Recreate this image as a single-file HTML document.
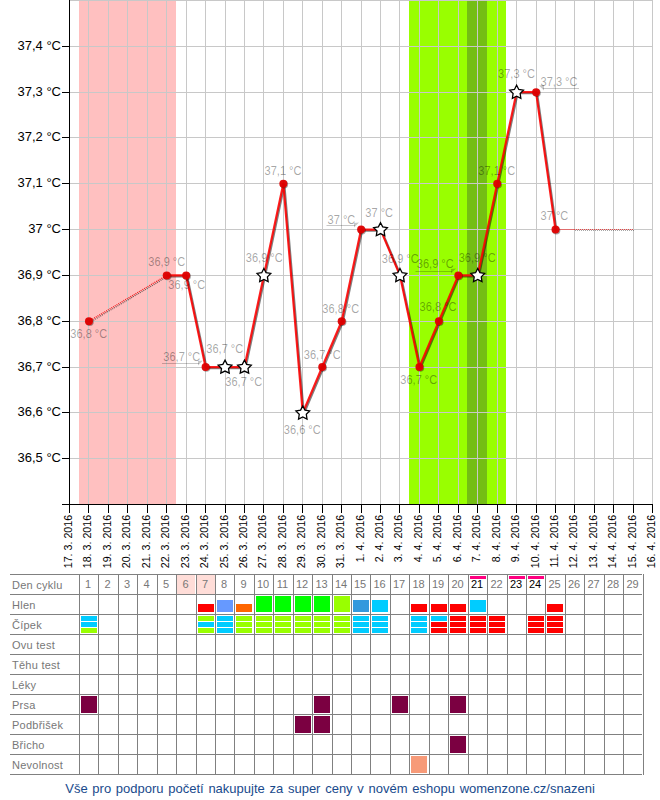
<!DOCTYPE html>
<html><head><meta charset="utf-8"><style>
html,body{margin:0;padding:0;background:#fff}
body{width:660px;height:800px;position:relative;overflow:hidden;font-family:"Liberation Sans",sans-serif}
.yl{font-family:"Liberation Sans",sans-serif;font-size:13px;fill:#000}
.xl{font-family:"Liberation Sans",sans-serif;font-size:10.7px;fill:#000}
.dl{font-family:"Liberation Sans",sans-serif;font-size:12px;fill:#000;fill-opacity:0.36}
.tl{position:absolute;left:12px;font-size:11px;letter-spacing:0.25px;line-height:14px;color:#777;white-space:nowrap}
.dn{position:absolute;top:577px;font-size:11px;line-height:14px;text-align:center}
.ft{position:absolute;left:0;top:781px;width:660px;text-align:center;font-size:13px;line-height:16px;color:#194A8C;word-spacing:1.1px}
</style></head><body>
<svg width="660" height="575" style="position:absolute;left:0;top:0"><rect x="79" y="0" width="97" height="504" fill="#FFC0C0"/><rect x="409" y="0" width="97" height="504" fill="#99FF00"/><rect x="467" y="0" width="20" height="504" fill="#74BE14"/><rect x="69" y="0" width="584" height="1" fill="#C8C8C8"/><rect x="69" y="46" width="584" height="1" fill="#C8C8C8"/><rect x="69" y="92" width="584" height="1" fill="#C8C8C8"/><rect x="69" y="137" width="584" height="1" fill="#C8C8C8"/><rect x="69" y="183" width="584" height="1" fill="#C8C8C8"/><rect x="69" y="229" width="584" height="1" fill="#C8C8C8"/><rect x="69" y="275" width="584" height="1" fill="#C8C8C8"/><rect x="69" y="321" width="584" height="1" fill="#C8C8C8"/><rect x="69" y="367" width="584" height="1" fill="#C8C8C8"/><rect x="69" y="412" width="584" height="1" fill="#C8C8C8"/><rect x="69" y="458" width="584" height="1" fill="#C8C8C8"/><rect x="88" y="0" width="1" height="504" fill="#C8C8C8"/><rect x="108" y="0" width="1" height="504" fill="#C8C8C8"/><rect x="127" y="0" width="1" height="504" fill="#C8C8C8"/><rect x="147" y="0" width="1" height="504" fill="#C8C8C8"/><rect x="166" y="0" width="1" height="504" fill="#C8C8C8"/><rect x="186" y="0" width="1" height="504" fill="#C8C8C8"/><rect x="205" y="0" width="1" height="504" fill="#C8C8C8"/><rect x="225" y="0" width="1" height="504" fill="#C8C8C8"/><rect x="244" y="0" width="1" height="504" fill="#C8C8C8"/><rect x="263" y="0" width="1" height="504" fill="#C8C8C8"/><rect x="283" y="0" width="1" height="504" fill="#C8C8C8"/><rect x="302" y="0" width="1" height="504" fill="#C8C8C8"/><rect x="322" y="0" width="1" height="504" fill="#C8C8C8"/><rect x="341" y="0" width="1" height="504" fill="#C8C8C8"/><rect x="361" y="0" width="1" height="504" fill="#C8C8C8"/><rect x="380" y="0" width="1" height="504" fill="#C8C8C8"/><rect x="399" y="0" width="1" height="504" fill="#C8C8C8"/><rect x="419" y="0" width="1" height="504" fill="#C8C8C8"/><rect x="438" y="0" width="1" height="504" fill="#C8C8C8"/><rect x="458" y="0" width="1" height="504" fill="#C8C8C8"/><rect x="477" y="0" width="1" height="504" fill="#C8C8C8"/><rect x="497" y="0" width="1" height="504" fill="#C8C8C8"/><rect x="516" y="0" width="1" height="504" fill="#C8C8C8"/><rect x="536" y="0" width="1" height="504" fill="#C8C8C8"/><rect x="555" y="0" width="1" height="504" fill="#C8C8C8"/><rect x="574" y="0" width="1" height="504" fill="#C8C8C8"/><rect x="594" y="0" width="1" height="504" fill="#C8C8C8"/><rect x="613" y="0" width="1" height="504" fill="#C8C8C8"/><rect x="633" y="0" width="1" height="504" fill="#C8C8C8"/><rect x="652" y="0" width="1" height="504" fill="#C8C8C8"/><rect x="69" y="0" width="1" height="513" fill="#000"/><rect x="62" y="504" width="591" height="1" fill="#000"/><rect x="62" y="46" width="7" height="1" fill="#000"/><rect x="62" y="92" width="7" height="1" fill="#000"/><rect x="62" y="137" width="7" height="1" fill="#000"/><rect x="62" y="183" width="7" height="1" fill="#000"/><rect x="62" y="229" width="7" height="1" fill="#000"/><rect x="62" y="275" width="7" height="1" fill="#000"/><rect x="62" y="321" width="7" height="1" fill="#000"/><rect x="62" y="367" width="7" height="1" fill="#000"/><rect x="62" y="412" width="7" height="1" fill="#000"/><rect x="62" y="458" width="7" height="1" fill="#000"/><rect x="88" y="504" width="1" height="9" fill="#000"/><rect x="108" y="504" width="1" height="9" fill="#000"/><rect x="127" y="504" width="1" height="9" fill="#000"/><rect x="147" y="504" width="1" height="9" fill="#000"/><rect x="166" y="504" width="1" height="9" fill="#000"/><rect x="186" y="504" width="1" height="9" fill="#000"/><rect x="205" y="504" width="1" height="9" fill="#000"/><rect x="225" y="504" width="1" height="9" fill="#000"/><rect x="244" y="504" width="1" height="9" fill="#000"/><rect x="263" y="504" width="1" height="9" fill="#000"/><rect x="283" y="504" width="1" height="9" fill="#000"/><rect x="302" y="504" width="1" height="9" fill="#000"/><rect x="322" y="504" width="1" height="9" fill="#000"/><rect x="341" y="504" width="1" height="9" fill="#000"/><rect x="361" y="504" width="1" height="9" fill="#000"/><rect x="380" y="504" width="1" height="9" fill="#000"/><rect x="399" y="504" width="1" height="9" fill="#000"/><rect x="419" y="504" width="1" height="9" fill="#000"/><rect x="438" y="504" width="1" height="9" fill="#000"/><rect x="458" y="504" width="1" height="9" fill="#000"/><rect x="477" y="504" width="1" height="9" fill="#000"/><rect x="497" y="504" width="1" height="9" fill="#000"/><rect x="516" y="504" width="1" height="9" fill="#000"/><rect x="536" y="504" width="1" height="9" fill="#000"/><rect x="555" y="504" width="1" height="9" fill="#000"/><rect x="574" y="504" width="1" height="9" fill="#000"/><rect x="594" y="504" width="1" height="9" fill="#000"/><rect x="613" y="504" width="1" height="9" fill="#000"/><rect x="633" y="504" width="1" height="9" fill="#000"/><rect x="652" y="504" width="1" height="9" fill="#000"/><text x="61" y="49.6" text-anchor="end" class="yl">37,4 °C</text><text x="61" y="95.6" text-anchor="end" class="yl">37,3 °C</text><text x="61" y="140.6" text-anchor="end" class="yl">37,2 °C</text><text x="61" y="186.6" text-anchor="end" class="yl">37,1 °C</text><text x="61" y="232.6" text-anchor="end" class="yl">37 °C</text><text x="61" y="278.6" text-anchor="end" class="yl">36,9 °C</text><text x="61" y="324.6" text-anchor="end" class="yl">36,8 °C</text><text x="61" y="370.6" text-anchor="end" class="yl">36,7 °C</text><text x="61" y="415.6" text-anchor="end" class="yl">36,6 °C</text><text x="61" y="461.6" text-anchor="end" class="yl">36,5 °C</text><text transform="translate(72.0,514.8) rotate(-90)" text-anchor="end" class="xl">17. 3. 2016</text><text transform="translate(91.0,514.8) rotate(-90)" text-anchor="end" class="xl">18. 3. 2016</text><text transform="translate(111.0,514.8) rotate(-90)" text-anchor="end" class="xl">19. 3. 2016</text><text transform="translate(130.0,514.8) rotate(-90)" text-anchor="end" class="xl">20. 3. 2016</text><text transform="translate(150.0,514.8) rotate(-90)" text-anchor="end" class="xl">21. 3. 2016</text><text transform="translate(169.0,514.8) rotate(-90)" text-anchor="end" class="xl">22. 3. 2016</text><text transform="translate(189.0,514.8) rotate(-90)" text-anchor="end" class="xl">23. 3. 2016</text><text transform="translate(208.0,514.8) rotate(-90)" text-anchor="end" class="xl">24. 3. 2016</text><text transform="translate(228.0,514.8) rotate(-90)" text-anchor="end" class="xl">25. 3. 2016</text><text transform="translate(247.0,514.8) rotate(-90)" text-anchor="end" class="xl">26. 3. 2016</text><text transform="translate(266.0,514.8) rotate(-90)" text-anchor="end" class="xl">27. 3. 2016</text><text transform="translate(286.0,514.8) rotate(-90)" text-anchor="end" class="xl">28. 3. 2016</text><text transform="translate(305.0,514.8) rotate(-90)" text-anchor="end" class="xl">29. 3. 2016</text><text transform="translate(325.0,514.8) rotate(-90)" text-anchor="end" class="xl">30. 3. 2016</text><text transform="translate(344.0,514.8) rotate(-90)" text-anchor="end" class="xl">31. 3. 2016</text><text transform="translate(364.0,514.8) rotate(-90)" text-anchor="end" class="xl">1. 4. 2016</text><text transform="translate(383.0,514.8) rotate(-90)" text-anchor="end" class="xl">2. 4. 2016</text><text transform="translate(402.0,514.8) rotate(-90)" text-anchor="end" class="xl">3. 4. 2016</text><text transform="translate(422.0,514.8) rotate(-90)" text-anchor="end" class="xl">4. 4. 2016</text><text transform="translate(441.0,514.8) rotate(-90)" text-anchor="end" class="xl">5. 4. 2016</text><text transform="translate(461.0,514.8) rotate(-90)" text-anchor="end" class="xl">6. 4. 2016</text><text transform="translate(480.0,514.8) rotate(-90)" text-anchor="end" class="xl">7. 4. 2016</text><text transform="translate(500.0,514.8) rotate(-90)" text-anchor="end" class="xl">8. 4. 2016</text><text transform="translate(519.0,514.8) rotate(-90)" text-anchor="end" class="xl">9. 4. 2016</text><text transform="translate(539.0,514.8) rotate(-90)" text-anchor="end" class="xl">10. 4. 2016</text><text transform="translate(558.0,514.8) rotate(-90)" text-anchor="end" class="xl">11. 4. 2016</text><text transform="translate(577.0,514.8) rotate(-90)" text-anchor="end" class="xl">12. 4. 2016</text><text transform="translate(597.0,514.8) rotate(-90)" text-anchor="end" class="xl">13. 4. 2016</text><text transform="translate(616.0,514.8) rotate(-90)" text-anchor="end" class="xl">14. 4. 2016</text><text transform="translate(636.0,514.8) rotate(-90)" text-anchor="end" class="xl">15. 4. 2016</text><text transform="translate(655.0,514.8) rotate(-90)" text-anchor="end" class="xl">16. 4. 2016</text><line x1="89.94" y1="322.23" x2="167.70" y2="276.41" stroke="rgba(0,0,0,0.55)" stroke-width="1.2" stroke-dasharray="1 1"/><line x1="88.94" y1="321.23" x2="166.70" y2="275.41" stroke="#F02020" stroke-width="1.3" stroke-dasharray="1 1"/><rect x="559" y="229" width="15" height="1" fill="#F03030" fill-opacity="0.6"/><line x1="574" y1="230.5" x2="634" y2="230.5" stroke="#000" stroke-opacity="0.35" stroke-width="1" stroke-dasharray="1 1" stroke-dashoffset="1"/><line x1="574" y1="229.5" x2="634" y2="229.5" stroke="#F02020" stroke-opacity="0.8" stroke-width="1" stroke-dasharray="1 1"/><path d="M166.70,275.41 L186.14,275.41 L205.58,367.05 L225.02,367.05 L244.46,367.05 L263.90,275.41 L283.34,183.77 L302.78,412.86 L322.22,367.05 L341.66,321.23 L361.10,229.59 L380.54,229.59 L399.98,275.41 L419.42,367.05 L438.86,321.23 L458.30,275.41 L477.74,275.41 L497.18,183.77 L516.62,92.14 L536.06,92.14 L555.50,229.59" fill="none" stroke="rgba(0,0,0,0.5)" stroke-width="2.2" stroke-linejoin="round" transform="translate(1,1)"/><path d="M166.70,275.41 L186.14,275.41 L205.58,367.05 L225.02,367.05 L244.46,367.05 L263.90,275.41 L283.34,183.77 L302.78,412.86 L322.22,367.05 L341.66,321.23 L361.10,229.59 L380.54,229.59 L399.98,275.41 L419.42,367.05 L438.86,321.23 L458.30,275.41 L477.74,275.41 L497.18,183.77 L516.62,92.14 L536.06,92.14 L555.50,229.59" fill="none" stroke="#FF0000" stroke-opacity="0.88" stroke-width="2.2" stroke-linejoin="round"/><circle cx="89.74" cy="322.03" r="4" fill="rgba(0,0,0,0.35)"/><circle cx="88.94" cy="321.23" r="4" fill="#E00000" fill-opacity="0.95"/><circle cx="167.50" cy="276.21" r="4" fill="rgba(0,0,0,0.35)"/><circle cx="166.70" cy="275.41" r="4" fill="#E00000" fill-opacity="0.95"/><circle cx="186.94" cy="276.21" r="4" fill="rgba(0,0,0,0.35)"/><circle cx="186.14" cy="275.41" r="4" fill="#E00000" fill-opacity="0.95"/><circle cx="206.38" cy="367.85" r="4" fill="rgba(0,0,0,0.35)"/><circle cx="205.58" cy="367.05" r="4" fill="#E00000" fill-opacity="0.95"/><path d="M225.02,360.15 L227.19,364.35 L231.87,365.12 L228.54,368.49 L229.25,373.17 L225.02,371.05 L220.79,373.17 L221.50,368.49 L218.17,365.12 L222.85,364.35Z" fill="#fff" stroke="#000" stroke-width="1.3" stroke-linejoin="miter"/><path d="M244.46,360.15 L246.63,364.35 L251.31,365.12 L247.98,368.49 L248.69,373.17 L244.46,371.05 L240.23,373.17 L240.94,368.49 L237.61,365.12 L242.29,364.35Z" fill="#fff" stroke="#000" stroke-width="1.3" stroke-linejoin="miter"/><path d="M263.90,268.51 L266.07,272.72 L270.75,273.48 L267.42,276.85 L268.13,281.53 L263.90,279.41 L259.67,281.53 L260.38,276.85 L257.05,273.48 L261.73,272.72Z" fill="#fff" stroke="#000" stroke-width="1.3" stroke-linejoin="miter"/><circle cx="284.14" cy="184.57" r="4" fill="rgba(0,0,0,0.35)"/><circle cx="283.34" cy="183.77" r="4" fill="#E00000" fill-opacity="0.95"/><path d="M302.78,405.96 L304.95,410.17 L309.63,410.94 L306.30,414.31 L307.01,418.99 L302.78,416.86 L298.55,418.99 L299.26,414.31 L295.93,410.94 L300.61,410.17Z" fill="#fff" stroke="#000" stroke-width="1.3" stroke-linejoin="miter"/><circle cx="323.02" cy="367.85" r="4" fill="rgba(0,0,0,0.35)"/><circle cx="322.22" cy="367.05" r="4" fill="#E00000" fill-opacity="0.95"/><circle cx="342.46" cy="322.03" r="4" fill="rgba(0,0,0,0.35)"/><circle cx="341.66" cy="321.23" r="4" fill="#E00000" fill-opacity="0.95"/><circle cx="361.90" cy="230.39" r="4" fill="rgba(0,0,0,0.35)"/><circle cx="361.10" cy="229.59" r="4" fill="#E00000" fill-opacity="0.95"/><path d="M380.54,222.69 L382.71,226.90 L387.39,227.67 L384.06,231.03 L384.77,235.72 L380.54,233.59 L376.31,235.72 L377.02,231.03 L373.69,227.67 L378.37,226.90Z" fill="#fff" stroke="#000" stroke-width="1.3" stroke-linejoin="miter"/><path d="M399.98,268.51 L402.15,272.72 L406.83,273.48 L403.50,276.85 L404.21,281.53 L399.98,279.41 L395.75,281.53 L396.46,276.85 L393.13,273.48 L397.81,272.72Z" fill="#fff" stroke="#000" stroke-width="1.3" stroke-linejoin="miter"/><circle cx="420.22" cy="367.85" r="4" fill="rgba(0,0,0,0.35)"/><circle cx="419.42" cy="367.05" r="4" fill="#E00000" fill-opacity="0.95"/><circle cx="439.66" cy="322.03" r="4" fill="rgba(0,0,0,0.35)"/><circle cx="438.86" cy="321.23" r="4" fill="#E00000" fill-opacity="0.95"/><circle cx="459.10" cy="276.21" r="4" fill="rgba(0,0,0,0.35)"/><circle cx="458.30" cy="275.41" r="4" fill="#E00000" fill-opacity="0.95"/><path d="M477.74,268.51 L479.91,272.72 L484.59,273.48 L481.26,276.85 L481.97,281.53 L477.74,279.41 L473.51,281.53 L474.22,276.85 L470.89,273.48 L475.57,272.72Z" fill="#fff" stroke="#000" stroke-width="1.3" stroke-linejoin="miter"/><circle cx="497.98" cy="184.57" r="4" fill="rgba(0,0,0,0.35)"/><circle cx="497.18" cy="183.77" r="4" fill="#E00000" fill-opacity="0.95"/><path d="M516.62,85.24 L518.79,89.44 L523.47,90.21 L520.14,93.58 L520.85,98.26 L516.62,96.14 L512.39,98.26 L513.10,93.58 L509.77,90.21 L514.45,89.44Z" fill="#fff" stroke="#000" stroke-width="1.3" stroke-linejoin="miter"/><circle cx="536.86" cy="92.94" r="4" fill="rgba(0,0,0,0.35)"/><circle cx="536.06" cy="92.14" r="4" fill="#E00000" fill-opacity="0.95"/><circle cx="556.30" cy="230.39" r="4" fill="rgba(0,0,0,0.35)"/><circle cx="555.50" cy="229.59" r="4" fill="#E00000" fill-opacity="0.95"/><text transform="translate(70.30,337.90) scale(0.92,1)" class="dl" >36,8 °C</text><text transform="translate(148.30,265.90) scale(0.92,1)" class="dl" >36,9 °C</text><text transform="translate(168.30,288.90) scale(0.92,1)" class="dl" >36,9 °C</text><text transform="translate(163.30,361.40) scale(0.92,1)" class="dl" >36,7 °C</text><text transform="translate(206.30,352.90) scale(0.92,1)" class="dl" >36,7 °C</text><text transform="translate(225.30,386.40) scale(0.92,1)" class="dl" >36,7 °C</text><text transform="translate(245.80,261.90) scale(0.92,1)" class="dl" >36,9 °C</text><text transform="translate(264.60,175.40) scale(0.92,1)" class="dl" >37,1 °C</text><text transform="translate(283.80,433.90) scale(0.92,1)" class="dl" >36,6 °C</text><text transform="translate(303.80,358.90) scale(0.92,1)" class="dl" >36,7 °C</text><text transform="translate(322.30,312.70) scale(0.92,1)" class="dl" >36,8 °C</text><text transform="translate(327.60,223.60) scale(0.92,1)" class="dl" >37 °C</text><text transform="translate(365.30,216.60) scale(0.92,1)" class="dl" >37 °C</text><text transform="translate(381.80,262.70) scale(0.92,1)" class="dl" >36,9 °C</text><text transform="translate(400.30,383.90) scale(0.92,1)" class="dl" >36,7 °C</text><text transform="translate(419.60,310.90) scale(0.92,1)" class="dl" >36,8 °C</text><text transform="translate(416.80,268.30) scale(0.92,1)" class="dl" >36,9 °C</text><text transform="translate(458.70,261.90) scale(0.92,1)" class="dl" >36,9 °C</text><text transform="translate(478.30,175.20) scale(0.92,1)" class="dl" >37,1 °C</text><text transform="translate(498.10,78.40) scale(0.92,1)" class="dl" >37,3 °C</text><text transform="translate(540.60,86.40) scale(0.92,1)" class="dl" >37,3 °C</text><text transform="translate(540.60,220.20) scale(0.92,1)" class="dl" >37 °C</text><rect x="162" y="363" width="37" height="1" fill="#000" fill-opacity="0.22"/><path d="M198,361 L203,360.5 L198,365.5Z" fill="#000" fill-opacity="0.22"/><rect x="326.5" y="225" width="28.5" height="1" fill="#000" fill-opacity="0.22"/><path d="M354,223 L359,222.5 L354,227.5Z" fill="#000" fill-opacity="0.22"/><rect x="415.5" y="271" width="36.5" height="1" fill="#000" fill-opacity="0.22"/><path d="M451,269 L456,268.5 L451,273.5Z" fill="#000" fill-opacity="0.22"/><rect x="543" y="88" width="36" height="1" fill="#000" fill-opacity="0.22"/><path d="M544,85 L539,85.5 L544,90.5Z" fill="#000" fill-opacity="0.22"/></svg>
<div style="position:absolute;left:10px;top:574px;width:632px;height:1px;background:#808080"></div><div style="position:absolute;left:10px;top:594px;width:632px;height:1px;background:#808080"></div><div style="position:absolute;left:10px;top:614px;width:632px;height:1px;background:#808080"></div><div style="position:absolute;left:10px;top:634px;width:632px;height:1px;background:#808080"></div><div style="position:absolute;left:10px;top:654px;width:632px;height:1px;background:#808080"></div><div style="position:absolute;left:10px;top:674px;width:632px;height:1px;background:#808080"></div><div style="position:absolute;left:10px;top:694px;width:632px;height:1px;background:#808080"></div><div style="position:absolute;left:10px;top:714px;width:632px;height:1px;background:#808080"></div><div style="position:absolute;left:10px;top:734px;width:632px;height:1px;background:#808080"></div><div style="position:absolute;left:10px;top:754px;width:632px;height:1px;background:#808080"></div><div style="position:absolute;left:10px;top:774px;width:632px;height:1px;background:#808080"></div><div style="position:absolute;left:79px;top:574px;width:1px;height:201px;background:#808080"></div><div style="position:absolute;left:98px;top:574px;width:1px;height:201px;background:#808080"></div><div style="position:absolute;left:118px;top:574px;width:1px;height:201px;background:#808080"></div><div style="position:absolute;left:137px;top:574px;width:1px;height:201px;background:#808080"></div><div style="position:absolute;left:157px;top:574px;width:1px;height:201px;background:#808080"></div><div style="position:absolute;left:176px;top:574px;width:1px;height:201px;background:#808080"></div><div style="position:absolute;left:196px;top:574px;width:1px;height:201px;background:#808080"></div><div style="position:absolute;left:215px;top:574px;width:1px;height:201px;background:#808080"></div><div style="position:absolute;left:234px;top:574px;width:1px;height:201px;background:#808080"></div><div style="position:absolute;left:254px;top:574px;width:1px;height:201px;background:#808080"></div><div style="position:absolute;left:273px;top:574px;width:1px;height:201px;background:#808080"></div><div style="position:absolute;left:293px;top:574px;width:1px;height:201px;background:#808080"></div><div style="position:absolute;left:312px;top:574px;width:1px;height:201px;background:#808080"></div><div style="position:absolute;left:332px;top:574px;width:1px;height:201px;background:#808080"></div><div style="position:absolute;left:351px;top:574px;width:1px;height:201px;background:#808080"></div><div style="position:absolute;left:370px;top:574px;width:1px;height:201px;background:#808080"></div><div style="position:absolute;left:390px;top:574px;width:1px;height:201px;background:#808080"></div><div style="position:absolute;left:409px;top:574px;width:1px;height:201px;background:#808080"></div><div style="position:absolute;left:429px;top:574px;width:1px;height:201px;background:#808080"></div><div style="position:absolute;left:448px;top:574px;width:1px;height:201px;background:#808080"></div><div style="position:absolute;left:468px;top:574px;width:1px;height:201px;background:#808080"></div><div style="position:absolute;left:487px;top:574px;width:1px;height:201px;background:#808080"></div><div style="position:absolute;left:507px;top:574px;width:1px;height:201px;background:#808080"></div><div style="position:absolute;left:526px;top:574px;width:1px;height:201px;background:#808080"></div><div style="position:absolute;left:545px;top:574px;width:1px;height:201px;background:#808080"></div><div style="position:absolute;left:565px;top:574px;width:1px;height:201px;background:#808080"></div><div style="position:absolute;left:584px;top:574px;width:1px;height:201px;background:#808080"></div><div style="position:absolute;left:604px;top:574px;width:1px;height:201px;background:#808080"></div><div style="position:absolute;left:623px;top:574px;width:1px;height:201px;background:#808080"></div><div style="position:absolute;left:643px;top:574px;width:1px;height:201px;background:#808080"></div><div class="tl" style="top:578.3px">Den cyklu</div><div class="tl" style="top:598.3px">Hlen</div><div class="tl" style="top:618.3px">Čípek</div><div class="tl" style="top:638.3px">Ovu test</div><div class="tl" style="top:658.3px">Těhu test</div><div class="tl" style="top:678.3px">Léky</div><div class="tl" style="top:698.3px">Prsa</div><div class="tl" style="top:718.3px">Podbřišek</div><div class="tl" style="top:738.3px">Břicho</div><div class="tl" style="top:758.3px">Nevolnost</div><div class="dn" style="left:79px;width:18px;color:#777">1</div><div class="dn" style="left:98px;width:19px;color:#777">2</div><div class="dn" style="left:118px;width:18px;color:#777">3</div><div class="dn" style="left:137px;width:19px;color:#777">4</div><div class="dn" style="left:157px;width:18px;color:#777">5</div><div style="position:absolute;left:177px;top:575px;width:18px;height:19px;background:#FFDDD8"></div><div class="dn" style="left:176px;width:19px;color:#777">6</div><div style="position:absolute;left:197px;top:575px;width:18px;height:19px;background:#FFDDD8"></div><div class="dn" style="left:196px;width:18px;color:#777">7</div><div class="dn" style="left:215px;width:18px;color:#777">8</div><div class="dn" style="left:234px;width:19px;color:#777">9</div><div class="dn" style="left:254px;width:18px;color:#777">10</div><div class="dn" style="left:273px;width:19px;color:#777">11</div><div class="dn" style="left:293px;width:18px;color:#777">12</div><div class="dn" style="left:312px;width:19px;color:#777">13</div><div class="dn" style="left:332px;width:18px;color:#777">14</div><div class="dn" style="left:351px;width:18px;color:#777">15</div><div class="dn" style="left:370px;width:19px;color:#777">16</div><div class="dn" style="left:390px;width:18px;color:#777">17</div><div class="dn" style="left:409px;width:19px;color:#777">18</div><div class="dn" style="left:429px;width:18px;color:#777">19</div><div class="dn" style="left:448px;width:19px;color:#777">20</div><div style="position:absolute;left:470px;top:576px;width:16px;height:3px;background:#FF0080"></div><div class="dn" style="left:468px;width:18px;color:#000">21</div><div class="dn" style="left:487px;width:19px;color:#777">22</div><div style="position:absolute;left:509px;top:576px;width:16px;height:3px;background:#FF0080"></div><div class="dn" style="left:507px;width:18px;color:#000">23</div><div style="position:absolute;left:528px;top:576px;width:16px;height:3px;background:#FF0080"></div><div class="dn" style="left:526px;width:18px;color:#000">24</div><div class="dn" style="left:545px;width:19px;color:#777">25</div><div class="dn" style="left:565px;width:18px;color:#777">26</div><div class="dn" style="left:584px;width:19px;color:#777">27</div><div class="dn" style="left:604px;width:18px;color:#777">28</div><div class="dn" style="left:623px;width:19px;color:#777">29</div><div style="position:absolute;left:198px;top:604px;width:16px;height:8px;background:#FF0000"></div><div style="position:absolute;left:217px;top:600px;width:16px;height:12px;background:#6699FF"></div><div style="position:absolute;left:236px;top:604px;width:16px;height:8px;background:#FF6600"></div><div style="position:absolute;left:256px;top:596px;width:16px;height:16px;background:#00FF00"></div><div style="position:absolute;left:275px;top:596px;width:16px;height:16px;background:#00FF00"></div><div style="position:absolute;left:295px;top:596px;width:16px;height:16px;background:#00FF00"></div><div style="position:absolute;left:314px;top:596px;width:16px;height:16px;background:#00FF00"></div><div style="position:absolute;left:334px;top:596px;width:16px;height:16px;background:#99FF00"></div><div style="position:absolute;left:353px;top:600px;width:16px;height:12px;background:#3399DD"></div><div style="position:absolute;left:372px;top:600px;width:16px;height:12px;background:#00CCFF"></div><div style="position:absolute;left:411px;top:604px;width:16px;height:8px;background:#FF0000"></div><div style="position:absolute;left:431px;top:604px;width:16px;height:8px;background:#FF0000"></div><div style="position:absolute;left:450px;top:604px;width:16px;height:8px;background:#FF0000"></div><div style="position:absolute;left:470px;top:600px;width:16px;height:12px;background:#00CCFF"></div><div style="position:absolute;left:547px;top:604px;width:16px;height:8px;background:#FF0000"></div><div style="position:absolute;left:81px;top:616px;width:16px;height:5px;background:#00CCFF"></div><div style="position:absolute;left:81px;top:622px;width:16px;height:5px;background:#00CCFF"></div><div style="position:absolute;left:81px;top:628px;width:16px;height:5px;background:#99FF00"></div><div style="position:absolute;left:198px;top:616px;width:16px;height:5px;background:#99FF00"></div><div style="position:absolute;left:198px;top:622px;width:16px;height:5px;background:#00CCFF"></div><div style="position:absolute;left:198px;top:628px;width:16px;height:5px;background:#99FF00"></div><div style="position:absolute;left:217px;top:616px;width:16px;height:5px;background:#00CCFF"></div><div style="position:absolute;left:217px;top:622px;width:16px;height:5px;background:#00CCFF"></div><div style="position:absolute;left:217px;top:628px;width:16px;height:5px;background:#00CCFF"></div><div style="position:absolute;left:236px;top:616px;width:16px;height:5px;background:#99FF00"></div><div style="position:absolute;left:236px;top:622px;width:16px;height:5px;background:#99FF00"></div><div style="position:absolute;left:236px;top:628px;width:16px;height:5px;background:#99FF00"></div><div style="position:absolute;left:256px;top:616px;width:16px;height:5px;background:#99FF00"></div><div style="position:absolute;left:256px;top:622px;width:16px;height:5px;background:#99FF00"></div><div style="position:absolute;left:256px;top:628px;width:16px;height:5px;background:#99FF00"></div><div style="position:absolute;left:275px;top:616px;width:16px;height:5px;background:#99FF00"></div><div style="position:absolute;left:275px;top:622px;width:16px;height:5px;background:#99FF00"></div><div style="position:absolute;left:275px;top:628px;width:16px;height:5px;background:#99FF00"></div><div style="position:absolute;left:295px;top:616px;width:16px;height:5px;background:#99FF00"></div><div style="position:absolute;left:295px;top:622px;width:16px;height:5px;background:#99FF00"></div><div style="position:absolute;left:295px;top:628px;width:16px;height:5px;background:#99FF00"></div><div style="position:absolute;left:314px;top:616px;width:16px;height:5px;background:#99FF00"></div><div style="position:absolute;left:314px;top:622px;width:16px;height:5px;background:#99FF00"></div><div style="position:absolute;left:314px;top:628px;width:16px;height:5px;background:#99FF00"></div><div style="position:absolute;left:334px;top:616px;width:16px;height:5px;background:#99FF00"></div><div style="position:absolute;left:334px;top:622px;width:16px;height:5px;background:#99FF00"></div><div style="position:absolute;left:334px;top:628px;width:16px;height:5px;background:#99FF00"></div><div style="position:absolute;left:353px;top:616px;width:16px;height:5px;background:#00CCFF"></div><div style="position:absolute;left:353px;top:622px;width:16px;height:5px;background:#00CCFF"></div><div style="position:absolute;left:353px;top:628px;width:16px;height:5px;background:#00CCFF"></div><div style="position:absolute;left:372px;top:616px;width:16px;height:5px;background:#00CCFF"></div><div style="position:absolute;left:372px;top:622px;width:16px;height:5px;background:#00CCFF"></div><div style="position:absolute;left:372px;top:628px;width:16px;height:5px;background:#00CCFF"></div><div style="position:absolute;left:411px;top:616px;width:16px;height:5px;background:#00CCFF"></div><div style="position:absolute;left:411px;top:622px;width:16px;height:5px;background:#00CCFF"></div><div style="position:absolute;left:411px;top:628px;width:16px;height:5px;background:#00CCFF"></div><div style="position:absolute;left:431px;top:616px;width:16px;height:5px;background:#00CCFF"></div><div style="position:absolute;left:431px;top:622px;width:16px;height:5px;background:#FF0000"></div><div style="position:absolute;left:431px;top:628px;width:16px;height:5px;background:#FF0000"></div><div style="position:absolute;left:450px;top:616px;width:16px;height:5px;background:#FF0000"></div><div style="position:absolute;left:450px;top:622px;width:16px;height:5px;background:#FF0000"></div><div style="position:absolute;left:450px;top:628px;width:16px;height:5px;background:#FF0000"></div><div style="position:absolute;left:470px;top:616px;width:16px;height:5px;background:#FF0000"></div><div style="position:absolute;left:470px;top:622px;width:16px;height:5px;background:#FF0000"></div><div style="position:absolute;left:470px;top:628px;width:16px;height:5px;background:#FF0000"></div><div style="position:absolute;left:489px;top:616px;width:16px;height:5px;background:#FF0000"></div><div style="position:absolute;left:489px;top:622px;width:16px;height:5px;background:#FF0000"></div><div style="position:absolute;left:489px;top:628px;width:16px;height:5px;background:#FF0000"></div><div style="position:absolute;left:528px;top:616px;width:16px;height:5px;background:#FF0000"></div><div style="position:absolute;left:528px;top:622px;width:16px;height:5px;background:#FF0000"></div><div style="position:absolute;left:528px;top:628px;width:16px;height:5px;background:#FF0000"></div><div style="position:absolute;left:547px;top:616px;width:16px;height:5px;background:#FF0000"></div><div style="position:absolute;left:547px;top:622px;width:16px;height:5px;background:#FF0000"></div><div style="position:absolute;left:547px;top:628px;width:16px;height:5px;background:#FF0000"></div><div style="position:absolute;left:81px;top:696px;width:16px;height:17px;background:#7B0041"></div><div style="position:absolute;left:314px;top:696px;width:16px;height:17px;background:#7B0041"></div><div style="position:absolute;left:392px;top:696px;width:16px;height:17px;background:#7B0041"></div><div style="position:absolute;left:450px;top:696px;width:16px;height:17px;background:#7B0041"></div><div style="position:absolute;left:295px;top:716px;width:16px;height:17px;background:#7B0041"></div><div style="position:absolute;left:314px;top:716px;width:16px;height:17px;background:#7B0041"></div><div style="position:absolute;left:450px;top:736px;width:16px;height:17px;background:#7B0041"></div><div style="position:absolute;left:411px;top:756px;width:16px;height:17px;background:#F79A78"></div>
<div class="ft">Vše pro podporu početí nakupujte za super ceny v novém eshopu womenzone.cz/snazeni</div>
</body></html>
